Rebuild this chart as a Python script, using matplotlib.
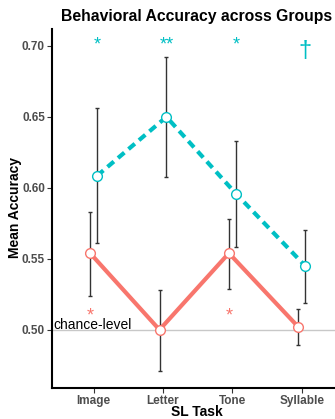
import matplotlib.pyplot as plt
import numpy as np

plt.rcParams['font.family'] = ['Liberation Sans', 'DejaVu Sans']

tasks = ["Image", "Letter", "Tone", "Syllable"]
red_mean = [0.554, 0.500, 0.554, 0.502]
red_lo = [0.524, 0.471, 0.529, 0.489]
red_hi = [0.583, 0.528, 0.578, 0.515]
cyan_mean = [0.6085, 0.650, 0.596, 0.545]
cyan_lo = [0.561, 0.608, 0.558, 0.519]
cyan_hi = [0.656, 0.692, 0.633, 0.570]
cyan_sig = ["*", "**", "*", "\u2020"]
red_sig = ["*", "", "*", ""]

RED = "#F8766D"
CYAN = "#00BFC4"

fig = plt.figure(figsize=(3.35, 4.19), dpi=100)
ax = fig.add_axes([0.155, 0.074, 0.866, 0.857])

x = np.arange(1, len(tasks) + 1)
dodge = 0.05
xr = x - dodge
xc = x + dodge

ax.axhline(0.5, color="#c8c8c8", lw=1, zorder=1)

ax.plot(xr, red_mean, color=RED, lw=3, solid_capstyle="butt", zorder=2)
ax.plot(xc, cyan_mean, color=CYAN, lw=3, ls=(0, (2, 1.3)), zorder=2)

for xs, m, lo, hi in [(xr, red_mean, red_lo, red_hi), (xc, cyan_mean, cyan_lo, cyan_hi)]:
    m = np.array(m)
    err = [m - np.array(lo), np.array(hi) - m]
    ax.errorbar(xs, m, yerr=err, fmt="none", ecolor="#333333", elinewidth=1,
                capsize=1.5, capthick=1, zorder=3)

ax.plot(xr, red_mean, "o", ms=7, mfc="white", mec=RED, mew=1, zorder=4)
ax.plot(xc, cyan_mean, "o", ms=7, mfc="white", mec=CYAN, mew=1, zorder=4)

# significance marks
for xi, s in zip(xc, cyan_sig):
    if s == "\u2020":
        ax.text(xi, 0.6919, s, color=CYAN, fontsize=17, ha="center", va="baseline")
    else:
        ax.text(xi, 0.6978, s, color=CYAN, fontsize=13, ha="center", va="baseline")
for xi, s in zip(xr, red_sig):
    if s:
        ax.text(xi, 0.5065, s, color=RED, fontsize=13, ha="center", va="baseline")

ax.text(0.42, 0.5008, "chance-level", fontsize=10, color="black", ha="left", va="baseline")

ax.set_xlim(0.4, 4.58)
ax.set_ylim(0.459, 0.712)
ax.set_xticks(x)
ax.set_xticklabels(tasks)
ax.set_yticks([0.50, 0.55, 0.60, 0.65, 0.70])
ax.set_yticklabels(["0.50", "0.55", "0.60", "0.65", "0.70"])
ax.tick_params(colors="#333333", labelcolor="#4d4d4d", length=3.5, width=0.8, labelsize=8.5, pad=1.5)
for lab in ax.get_xticklabels() + ax.get_yticklabels():
    lab.set_fontweight("bold")

for s in ["top", "right"]:
    ax.spines[s].set_visible(False)
for s in ["left", "bottom"]:
    ax.spines[s].set_linewidth(1.5)
    ax.spines[s].set_color("black")

fig.text(197 / 335, 1 - 412 / 419, "SL Task", fontsize=10, fontweight="bold",
         ha="center", va="center")
fig.text(15 / 335, 1 - 207 / 419, "Mean Accuracy", fontsize=10, fontweight="bold",
         rotation=90, ha="center", va="center")
fig.text(197 / 335, 1 - 16 / 419, "Behavioral Accuracy across Groups", fontsize=11.3,
         fontweight="bold", ha="center", va="center")

fig.savefig("out.png", dpi=100)
